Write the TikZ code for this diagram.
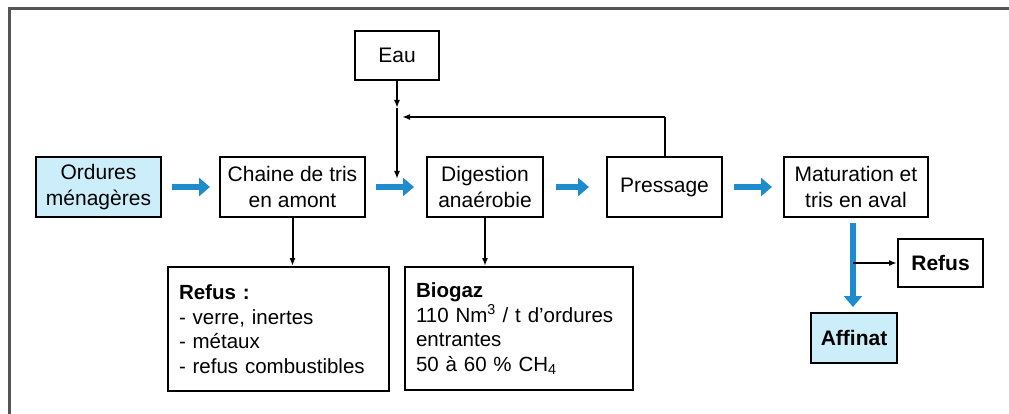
\documentclass[tikz,border=0pt]{standalone}
\usepackage{fontspec}
\setmainfont{Liberation Sans}
\usetikzlibrary{arrows.meta}
\definecolor{lightfill}{HTML}{CCEEFA}
\definecolor{flowblue}{HTML}{1E8BCC}
\definecolor{framegray}{HTML}{555555}
\begin{document}
\begin{tikzpicture}[x=1pt,y=-1pt,
  box/.style={draw=black,line width=2pt,inner sep=0pt,align=center,
    font=\fontsize{21}{26}\selectfont},
  bigbox/.style={draw=black,line width=2pt,inner xsep=11pt,inner ysep=0pt,align=left,
    font=\fontsize{20.5}{24.5}\selectfont},
  bluearrow/.style={draw=flowblue,line width=6.5pt,-{Triangle[length=11pt,width=18pt]}},
  blackarrow/.style={draw=black,line width=2pt,-{Latex[length=8pt,width=6pt]}},
  blackline/.style={draw=black,line width=2pt}]
\useasboundingbox (0,0) rectangle (1009,414);
\draw[framegray,line width=3pt] (9,414) -- (9,9) -- (1009,9);
% nodes
\node[box,fill=lightfill,minimum width=125pt,minimum height=60pt] (ord) at (98.5,187) {Ordures\\ménagères};
\node[box,minimum width=145pt,minimum height=60pt] (chaine) at (292.5,187) {Chaine de tris\\en amont};
\node[box,minimum width=116pt,minimum height=60pt] (dig) at (485,187) {Digestion\\anaérobie};
\node[box,minimum width=115pt,minimum height=60pt] (press) at (664.5,187) {Pressage};
\node[box,minimum width=144pt,minimum height=60pt] (mat) at (856,187) {Maturation et\\tris en aval};
\node[box,minimum width=84pt,minimum height=49pt] (eau) at (397,55.5) {Eau};
\node[bigbox,text width=199pt,minimum height=124pt] (ref1) at (278.5,329) {\textbf{Refus :}\\- verre, inertes\\- métaux\\- refus combustibles};
\node[bigbox,text width=206pt,minimum height=123pt] (bio) at (519,328.5) {\textbf{Biogaz}\\110 Nm\textsuperscript{3} / t d'ordures\\entrantes\\50 à 60 \% CH\textsubscript{4}};
\node[box,minimum width=85pt,minimum height=48pt] (ref2) at (940.5,263) {\textbf{Refus}};
\node[box,fill=lightfill,minimum width=86pt,minimum height=50pt] (aff) at (854,338) {\textbf{Affinat}};
% blue flow arrows
\draw[bluearrow,shorten <=10pt,shorten >=9pt] (ord.east) -- (chaine.west);
\draw[bluearrow,shorten <=10pt,shorten >=12pt] (chaine.east) -- (dig.west);
\draw[bluearrow,shorten <=12pt,shorten >=17pt] (dig.east) -- (press.west);
\draw[bluearrow,shorten <=11pt,shorten >=11pt] (press.east) -- (mat.west);
\coordinate (mtop) at (853,217);
\coordinate (abot) at (853,313);
\draw[bluearrow,shorten <=6pt,shorten >=6pt] (mtop) -- (abot);
% black connectors
\coordinate (eaumid) at (397,108);
\coordinate (eauend) at (397,179);
\draw[blackarrow] (eau.south) -- (eaumid);
\draw[blackarrow] (eaumid) -- (eauend);
\coordinate (fbtop) at (664.5,117);
\coordinate (fbend) at (402,117);
\draw[blackline] (press.north) -- (fbtop);
\draw[blackarrow] (fbtop) -- (fbend);
\draw[blackarrow] (chaine.south) -- (ref1.north -| chaine.south);
\draw[blackarrow] (dig.south) -- (bio.north -| dig.south);
\coordinate (branch) at (853,263);
\draw[blackarrow] (branch) -- (ref2.west);
\end{tikzpicture}
\end{document}
